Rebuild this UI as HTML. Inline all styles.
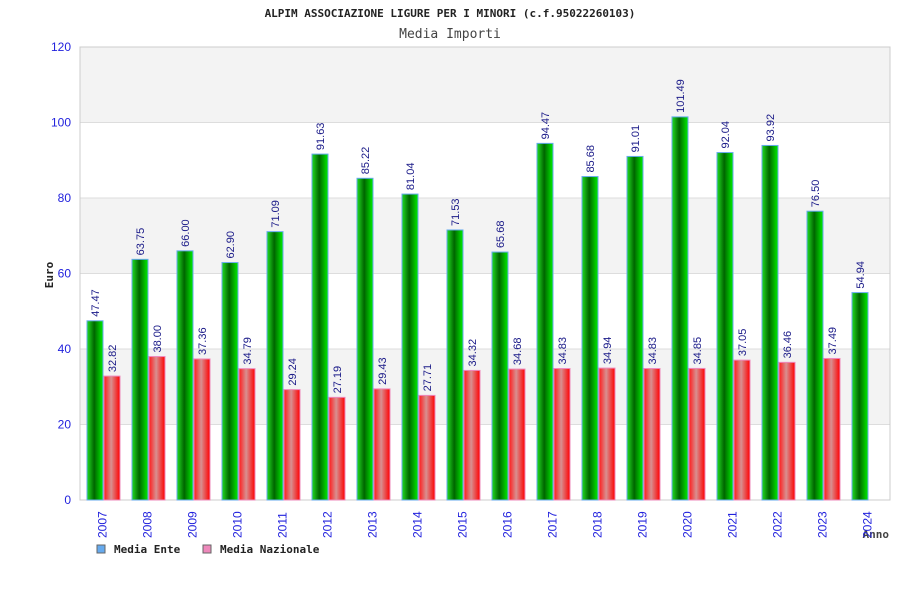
<!DOCTYPE html>
<html><head><meta charset="utf-8"><style>
body{margin:0;background:#fff;width:900px;height:600px;overflow:hidden}
text{font-family:"DejaVu Sans Mono","Liberation Mono",monospace}
.s{font-family:"Liberation Sans","DejaVu Sans",sans-serif}
</style></head><body>
<svg id="c" width="900" height="600" xmlns="http://www.w3.org/2000/svg">
<defs>
<linearGradient id="gg" x1="0" x2="1" y1="0" y2="0">
<stop offset="0" stop-color="#22dd22"/><stop offset="0.45" stop-color="#006600"/><stop offset="1" stop-color="#00ee00"/></linearGradient>
<linearGradient id="rg" x1="0" x2="1" y1="0" y2="0">
<stop offset="0" stop-color="#ff1a1a"/><stop offset="0.45" stop-color="#d89090"/><stop offset="1" stop-color="#ff0000"/></linearGradient>
</defs>
<text x="450" y="17" text-anchor="middle" font-size="11" font-weight="bold" fill="#222">ALPIM ASSOCIAZIONE LIGURE PER I MINORI (c.f.95022260103)</text>
<text x="450" y="38" text-anchor="middle" font-size="13" fill="#444">Media Importi</text>
<text transform="translate(53,275) rotate(-90)" text-anchor="middle" font-size="11" font-weight="bold" fill="#222">Euro</text>
<text x="889" y="538" text-anchor="end" font-size="11" font-weight="bold" fill="#444">Anno</text>
<g id="plot"></g>
<rect x="97" y="545" width="8" height="8" fill="#66aaee" stroke="#666"/>
<text x="114" y="553" font-size="11" font-weight="bold" fill="#222">Media Ente</text>
<rect x="203" y="545" width="8" height="8" fill="#ee88bb" stroke="#666"/>
<text x="220" y="553" font-size="11" font-weight="bold" fill="#222">Media Nazionale</text>
</svg>
<script>
const years=["2007","2008","2009","2010","2011","2012","2013","2014","2015","2016","2017","2018","2019","2020","2021","2022","2023","2024"];
const ente=[47.47,63.75,66.00,62.90,71.09,91.63,85.22,81.04,71.53,65.68,94.47,85.68,91.01,101.49,92.04,93.92,76.50,54.94];
const nazionale=[32.82,38.00,37.36,34.79,29.24,27.19,29.43,27.71,34.32,34.68,34.83,34.94,34.83,34.85,37.05,36.46,37.49,null];
const yTicks=[0,20,40,60,80,100,120];
const X0=80,X1=890,Y0=500,Y1=47,YMAX=120;
const gw=(X1-X0)/years.length;
const y=v=>Y0-(v/YMAX)*(Y0-Y1);
const xg=i=>X0+i*gw;
const NS="http://www.w3.org/2000/svg";
const g=document.getElementById('plot');
function mk(t,a){const e=document.createElementNS(NS,t);for(const k in a)e.setAttribute(k,a[k]);g.appendChild(e);return e;}
for(let i=0;i<yTicks.length-1;i++){
 if(i%2==1){const b=mk('rect',{x:X0,y:y(yTicks[i+1]),width:X1-X0,height:y(yTicks[i])-y(yTicks[i+1]),fill:'#f3f3f3'});
 
 }
}
yTicks.forEach(t=>{
 const l=mk('line',{x1:X0,x2:X1,y1:y(t),y2:y(t),stroke:'#dddddd'});
 
 
 const tx=mk('text',{x:71,y:y(t)+4,'text-anchor':'end','font-size':12,fill:'#2222dd',class:'s'});
 tx.textContent=t;
 
 
});
const fr=mk('rect',{x:X0,y:Y1,width:X1-X0,height:Y0-Y1,fill:'none',stroke:'#cccccc'});


years.forEach((yr,i)=>{
 const gx=xg(i);
 const v=ente[i];
 const r=mk('rect',{x:gx+7,y:y(v),width:16,height:Y0-y(v),fill:'url(#gg)',stroke:'#66aaee','stroke-width':1});
 
 
 const t=mk('text',{transform:`translate(${gx+19},${y(v)-4}) rotate(-90)`,'font-size':11,fill:'#1a1a88',class:'s'});
 t.textContent=v.toFixed(2);
 
 
 const n=nazionale[i];
 if(n!=null){
  const r2=mk('rect',{x:gx+24,y:y(n),width:16,height:Y0-y(n),fill:'url(#rg)',stroke:'#ee88bb','stroke-width':1});
  
  
  const t2=mk('text',{transform:`translate(${gx+36},${y(n)-4}) rotate(-90)`,'font-size':11,fill:'#1a1a88',class:'s'});
  t2.textContent=n.toFixed(2);
  
  
 }
 const xl=mk('text',{transform:`translate(${gx+gw/2+4},${538}) rotate(-90)`,'font-size':12,fill:'#2222dd',class:'s'});
 xl.textContent=yr;
 
 
});
</script>
</body></html>
